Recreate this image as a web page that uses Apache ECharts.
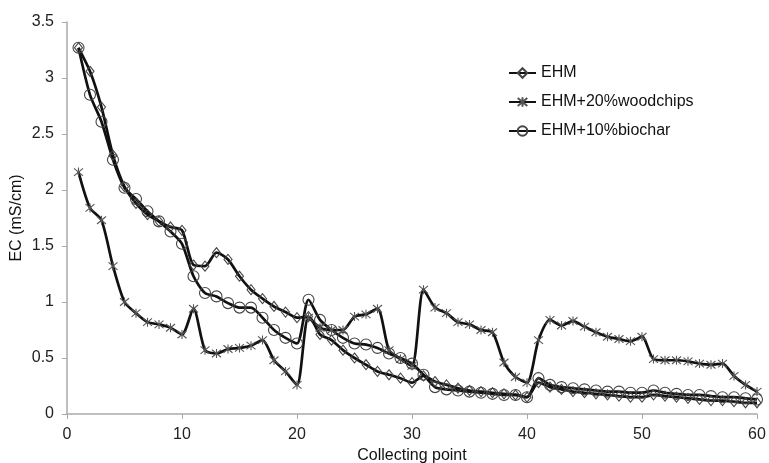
<!DOCTYPE html>
<html>
<head>
<meta charset="UTF-8">
<title>EC</title>
<script src="https://cdn.jsdelivr.net/npm/echarts@6/dist/echarts.min.js"></script>
<style>
  html, body { margin: 0; padding: 0; background: #fff; }
  #chart { width: 769px; height: 463px; }
</style>
</head>
<body>
<div id="chart"></div>
<script>
// collecting points 1..60
const points = [];
for (let i = 1; i <= 60; i++) points.push(i);

const ehm = [3.27, 3.06, 2.74, 2.31, 2.03, 1.88, 1.78, 1.72, 1.67, 1.64,
             1.33, 1.32, 1.44, 1.38, 1.23, 1.11, 1.03, 0.96, 0.91, 0.86,
             0.87, 0.71, 0.66, 0.57, 0.50, 0.44, 0.38, 0.35, 0.32, 0.28,
             0.34, 0.29, 0.26, 0.23, 0.21, 0.20, 0.19, 0.18, 0.17, 0.15,
             0.28, 0.24, 0.22, 0.20, 0.19, 0.18, 0.17, 0.16, 0.15, 0.15,
             0.17, 0.16, 0.15, 0.14, 0.13, 0.12, 0.12, 0.11, 0.10, 0.10];

const woodchips = [2.16, 1.84, 1.73, 1.32, 1.00, 0.90, 0.82, 0.80, 0.77, 0.71,
                   0.94, 0.57, 0.54, 0.58, 0.59, 0.61, 0.66, 0.48, 0.38, 0.26,
                   0.86, 0.77, 0.75, 0.75, 0.87, 0.89, 0.94, 0.57, 0.49, 0.43,
                   1.11, 0.95, 0.90, 0.82, 0.80, 0.75, 0.73, 0.46, 0.33, 0.28,
                   0.66, 0.84, 0.79, 0.83, 0.78, 0.73, 0.69, 0.67, 0.65, 0.69,
                   0.49, 0.48, 0.48, 0.47, 0.45, 0.44, 0.45, 0.34, 0.26, 0.20];

const biochar = [3.27, 2.85, 2.61, 2.27, 2.02, 1.92, 1.81, 1.72, 1.63, 1.52,
                 1.23, 1.08, 1.05, 0.99, 0.95, 0.95, 0.86, 0.75, 0.68, 0.63,
                 1.02, 0.84, 0.75, 0.68, 0.63, 0.62, 0.59, 0.54, 0.50, 0.45,
                 0.35, 0.24, 0.22, 0.21, 0.20, 0.19, 0.18, 0.17, 0.17, 0.15,
                 0.32, 0.26, 0.24, 0.23, 0.22, 0.21, 0.20, 0.20, 0.19, 0.19,
                 0.21, 0.19, 0.18, 0.17, 0.17, 0.16, 0.15, 0.15, 0.14, 0.13];

const names = ['EHM', 'EHM+20%woodchips', 'EHM+10%biochar'];

function pairs(vals) {
  return vals.map((v, i) => [points[i], v]);
}

const asterisk = 'path://M0,0L10,10M0,10L10,0M5,-1L5,11';

const lineStyle = { color: '#111', width: 2.7 };
const markStyle = { color: 'rgba(255,255,255,0)', borderColor: '#444', borderWidth: 1.1 };
const font = 'Liberation Sans, Arial, sans-serif';

const chart = echarts.init(document.getElementById('chart'));
chart.setOption({
  animation: false,
  textStyle: { fontFamily: font },
  grid: { left: 67, right: 12, top: 22, bottom: 49, outerBoundsMode: 'none', containLabel: false },
  legend: {
    orient: 'vertical',
    left: 503,
    top: 60,
    itemWidth: 27,
    itemHeight: 12,
    itemGap: 13,
    textStyle: { fontSize: 16, color: '#111', fontFamily: font },
    data: names
  },
  xAxis: {
    type: 'value',
    min: 0, max: 60, interval: 10,
    name: 'Collecting point',
    nameLocation: 'middle',
    nameGap: 34,
    nameMoveOverlap: false,
    nameTextStyle: { fontSize: 16, color: '#111' },
    splitLine: { show: false },
    axisLine: { lineStyle: { color: '#aaa', width: 1.5 } },
    axisTick: { show: true, length: 5, lineStyle: { color: '#aaa' } },
    axisLabel: { fontSize: 16, color: '#222', margin: 13 }
  },
  yAxis: {
    type: 'value',
    min: 0, max: 3.5, interval: 0.5,
    name: 'EC (mS/cm)',
    nameLocation: 'middle',
    nameGap: 42,
    nameMoveOverlap: false,
    nameTextStyle: { fontSize: 16, color: '#111' },
    splitLine: { show: false },
    axisLine: { show: true, lineStyle: { color: '#aaa', width: 1.5 } },
    axisTick: { show: true, length: 5, lineStyle: { color: '#aaa' } },
    axisLabel: { fontSize: 16, color: '#222', margin: 13 }
  },
  series: [
    {
      name: names[0], type: 'line', smooth: 0.25,
      data: pairs(ehm),
      symbol: 'diamond', symbolSize: [8, 10],
      lineStyle: lineStyle, itemStyle: markStyle
    },
    {
      name: names[1], type: 'line', smooth: 0.25,
      data: pairs(woodchips),
      symbol: asterisk, symbolSize: 9,
      lineStyle: lineStyle,
      itemStyle: { color: '#555', borderColor: '#555', borderWidth: 1.1 }
    },
    {
      name: names[2], type: 'line', smooth: 0.25,
      data: pairs(biochar),
      symbol: 'circle', symbolSize: 11,
      lineStyle: lineStyle, itemStyle: markStyle
    }
  ]
});
</script>
</body>
</html>
